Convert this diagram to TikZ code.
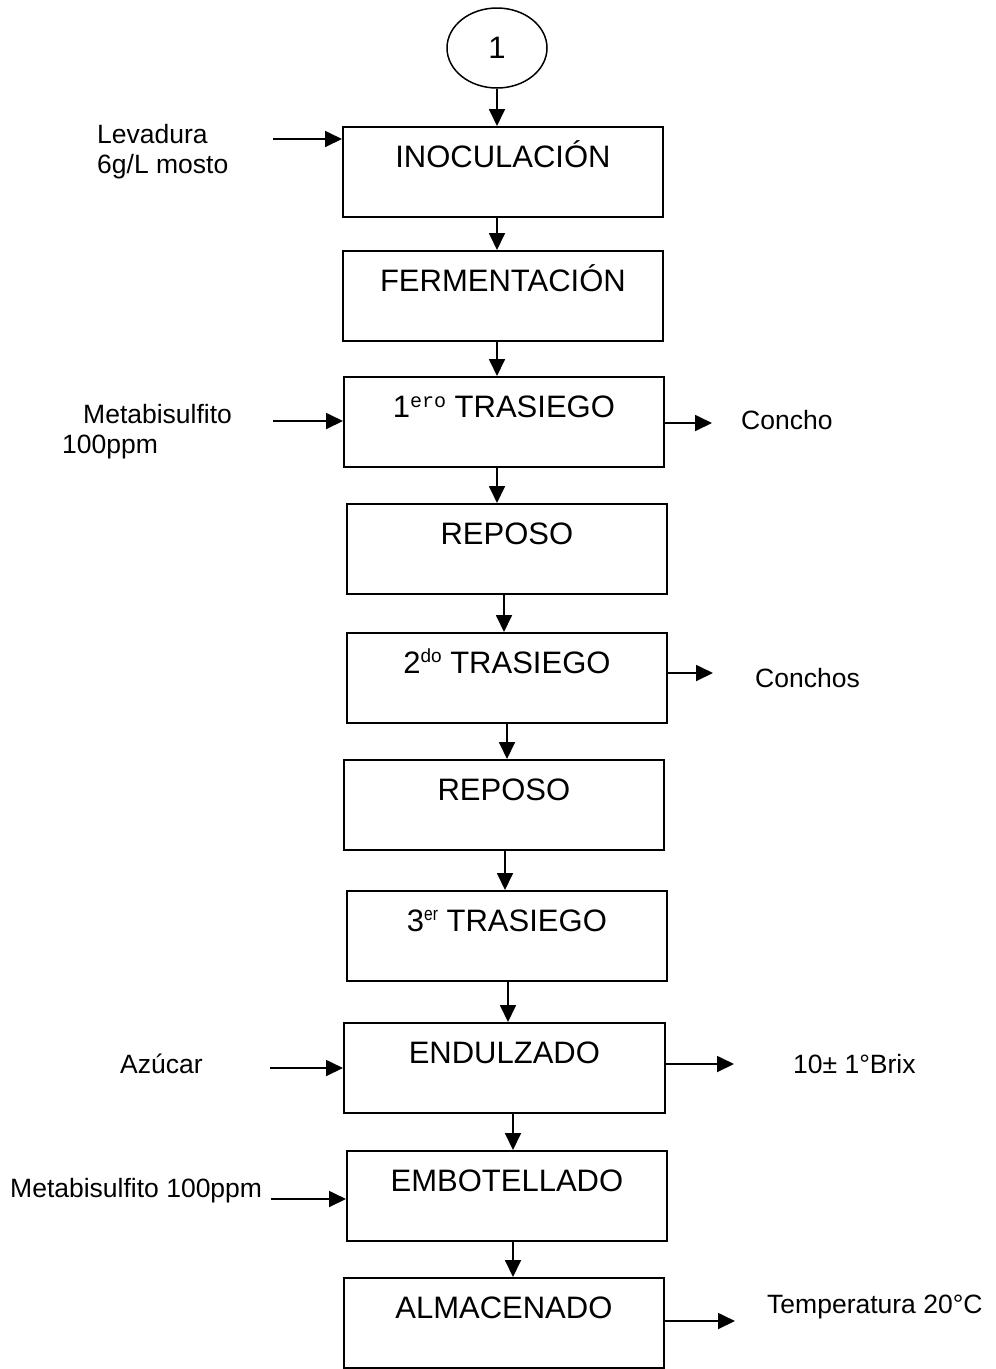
\documentclass[tikz,border=0pt]{standalone}
\usepackage{fontspec}
\setmainfont{Liberation Sans}
\newfontfamily\monofam{Liberation Mono}
\usetikzlibrary{arrows.meta,shapes.geometric}
\newcommand{\supmono}[1]{\raisebox{10pt}{\fontsize{20}{20}\selectfont\monofam #1}}
\newcommand{\supsans}[1]{\raisebox{11pt}{\fontsize{19}{19}\selectfont #1}}
\newcommand{\supnarrow}[1]{\raisebox{11pt}{\fontsize{19}{19}\selectfont\scalebox{0.82}[1]{#1}}}
\begin{document}
\begin{tikzpicture}[x=1pt,y=-1pt,
  box/.style={draw,line width=1.8pt,anchor=north west,inner sep=0pt,
    minimum width=320pt,minimum height=90pt,text height=41pt,text depth=49pt,
    font=\fontsize{31}{37}\selectfont},
  side/.style={anchor=base west,inner sep=0pt,font=\fontsize{26.5}{32}\selectfont},
  arr/.style={line width=1.8pt,-{Triangle[length=17pt,width=16pt]}}]
\useasboundingbox (0,0) rectangle (996,1369);

% start connector
\node[draw,ellipse,line width=1.5pt,minimum width=100pt,minimum height=80pt,inner sep=0pt,
  font=\fontsize{31}{37}\selectfont] (start) at (497,48) {1};

% process steps
\node[box] (b1) at (342,126) {INOCULACIÓN};
\node[box] (b2) at (342,250) {FERMENTACIÓN};
\node[box] (b3) at (343,376) {1\supmono{ero}\ TRASIEGO};
\node[box] (b4) at (346,503) {REPOSO};
\node[box] (b5) at (346,632) {2\supsans{do}\ TRASIEGO};
\node[box] (b6) at (343,759) {REPOSO};
\node[box] (b7) at (346,890) {3\supnarrow{er}\ TRASIEGO};
\node[box,minimum width=321pt] (b8) at (343,1022) {ENDULZADO};
\node[box] (b9) at (346,1150) {EMBOTELLADO};
\node[box] (b10) at (343,1277) {ALMACENADO};

% x positions of the vertical links
\coordinate (x0) at (497,0);
\coordinate (x1) at (497,0);
\coordinate (x2) at (497,0);
\coordinate (x3) at (497,0);
\coordinate (x4) at (504,0);
\coordinate (x5) at (507,0);
\coordinate (x6) at (505,0);
\coordinate (x7) at (508,0);
\coordinate (x8) at (513,0);
\coordinate (x9) at (513,0);

\draw[arr] (start.south -| x0) -- (b1.north -| x0);
\draw[arr] (b1.south -| x1) -- (b2.north -| x1);
\draw[arr] (b2.south -| x2) -- (b3.north -| x2);
\draw[arr] (b3.south -| x3) -- (b4.north -| x3);
\draw[arr] (b4.south -| x4) -- (b5.north -| x4);
\draw[arr] (b5.south -| x5) -- (b6.north -| x5);
\draw[arr] (b6.south -| x6) -- (b7.north -| x6);
\draw[arr] (b7.south -| x7) -- (b8.north -| x7);
\draw[arr] (b8.south -| x8) -- (b9.north -| x8);
\draw[arr] (b9.south -| x9) -- (b10.north -| x9);

% inputs
\node[side] (lev1) at (97,143) {Levadura};
\node[side] (lev2) at (97,173) {6g/L mosto};
\coordinate (in1) at (273,139);
\draw[arr] (in1) -- (in1 -| b1.west);

\node[side] (met1) at (83,423) {Metabisulfito};
\node[side] (met2) at (62,453) {100ppm};
\coordinate (in3) at (273,421);
\draw[arr] (in3) -- (in3 -| b3.west);

\node[side] (azu) at (120,1073) {Azúcar};
\coordinate (in8) at (270,1068);
\draw[arr] (in8) -- (in8 -| b8.west);

\node[side] (met3) at (10,1197) {Metabisulfito 100ppm};
\coordinate (in9) at (271,1199);
\draw[arr] (in9) -- (in9 -| b9.west);

% outputs
\coordinate (out3) at (712,423);
\draw[arr] (out3 -| b3.east) -- (out3);
\node[side] (con1) at (741,429) {Concho};

\coordinate (out5) at (713,673);
\draw[arr] (out5 -| b5.east) -- (out5);
\node[side] (con2) at (755,687) {Conchos};

\coordinate (out8) at (734,1064);
\draw[arr] (out8 -| b8.east) -- (out8);
\node[side] (brix) at (793,1073) {10± 1°Brix};

\coordinate (out10) at (735,1321);
\draw[arr] (out10 -| b10.east) -- (out10);
\node[side] (temp) at (767,1313) {Temperatura 20°C};
\end{tikzpicture}
\end{document}
